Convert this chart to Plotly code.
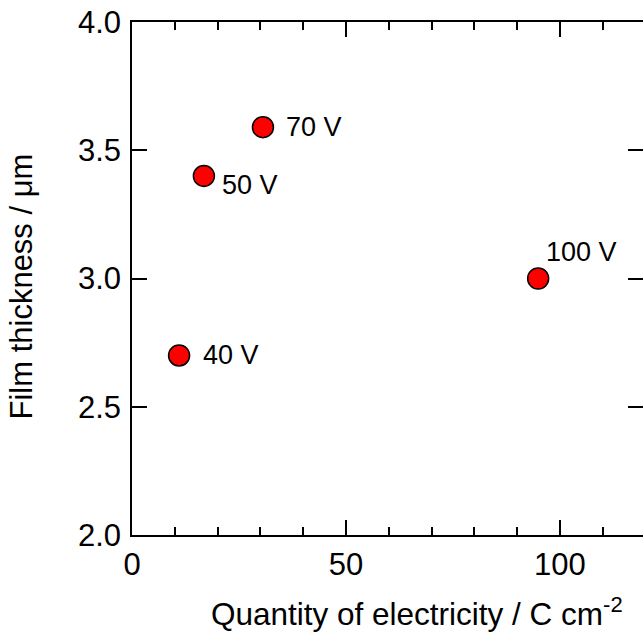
import plotly.graph_objects as go

# Data
charge = [11.0, 16.8, 30.6, 94.9]          # C cm^-2
thickness = [2.70, 3.40, 3.59, 3.00]       # um
voltage_labels = ["40 V", "50 V", "70 V", "100 V"]

x_ticks = [0, 50, 100]
y_ticks = [2.0, 2.5, 3.0, 3.5, 4.0]
y_tick_text = ["2.0", "2.5", "3.0", "3.5", "4.0"]

x_title = "Quantity of electricity / C cm<sup>-2</sup>"
y_title = "Film thickness / μm"

# label offsets in pixels (style)
label_dx = [22, 16, 21, 6]
label_dy = [0, -9, 0, 27]

FONT = "Liberation Sans, Arial, sans-serif"

fig = go.Figure()
fig.add_trace(go.Scatter(
    x=charge, y=thickness, mode="markers",
    marker=dict(size=21, color="#ff0000", line=dict(color="black", width=1.5)),
    showlegend=False, hoverinfo="skip",
))
# trace bound to the right-hand y axis (ticks only)
fig.add_trace(go.Scatter(x=[None], y=[None], yaxis="y2", showlegend=False, hoverinfo="skip"))

for x, y, t, dx, dy in zip(charge, thickness, voltage_labels, label_dx, label_dy):
    fig.add_annotation(x=x, y=y, text=t, showarrow=False, xanchor="left",
                       yanchor="middle", xshift=dx, yshift=dy,
                       font=dict(family=FONT, size=27, color="black"))

# y-axis title placed as rotated annotation
fig.add_annotation(xref="paper", yref="paper", x=0, y=0.5, xshift=-111, yshift=-8,
                   text=y_title, textangle=-90, showarrow=False,
                   xanchor="center", yanchor="middle",
                   font=dict(family=FONT, size=31, color="black"))

# x-axis title placed as annotation
fig.add_annotation(xref="paper", yref="paper", x=0, y=0, xshift=77, yshift=-77,
                   text=x_title, showarrow=False,
                   xanchor="left", yanchor="middle",
                   font=dict(family=FONT, size=31.5, color="black"))

fig.update_layout(
    width=643, height=636,
    margin=dict(l=132, r=0, t=22, b=101),
    paper_bgcolor="white", plot_bgcolor="white",
    font=dict(family=FONT, color="black"),
    xaxis=dict(
        range=[0, 119.4], tickvals=x_ticks, ticktext=[str(v) for v in x_ticks],
        ticks="inside", ticklen=15, tickwidth=1.5, tickcolor="black",
        minor=dict(dtick=10, ticks="inside", ticklen=8, tickwidth=1.5, tickcolor="black"),
        showline=True, linewidth=1.5, linecolor="black", mirror="ticks",
        showgrid=False, zeroline=False,
        tickfont=dict(size=31), ticklabelstandoff=1,
    ),
    yaxis=dict(
        range=[2, 4], tickvals=y_ticks, ticktext=y_tick_text,
        ticks="inside", ticklen=15, tickwidth=1.5, tickcolor="black",
        showline=True, linewidth=1.5, linecolor="black", mirror=False,
        showgrid=False, zeroline=False,
        tickfont=dict(size=31), ticklabelstandoff=3,
    ),
    yaxis2=dict(
        range=[2, 4], tickvals=y_ticks, overlaying="y", side="right", anchor="x",
        ticks="inside", ticklen=15, tickwidth=1.5, tickcolor="black",
        showline=False, showticklabels=False, showgrid=False, zeroline=False,
    ),
)

fig.write_html("out.html")
